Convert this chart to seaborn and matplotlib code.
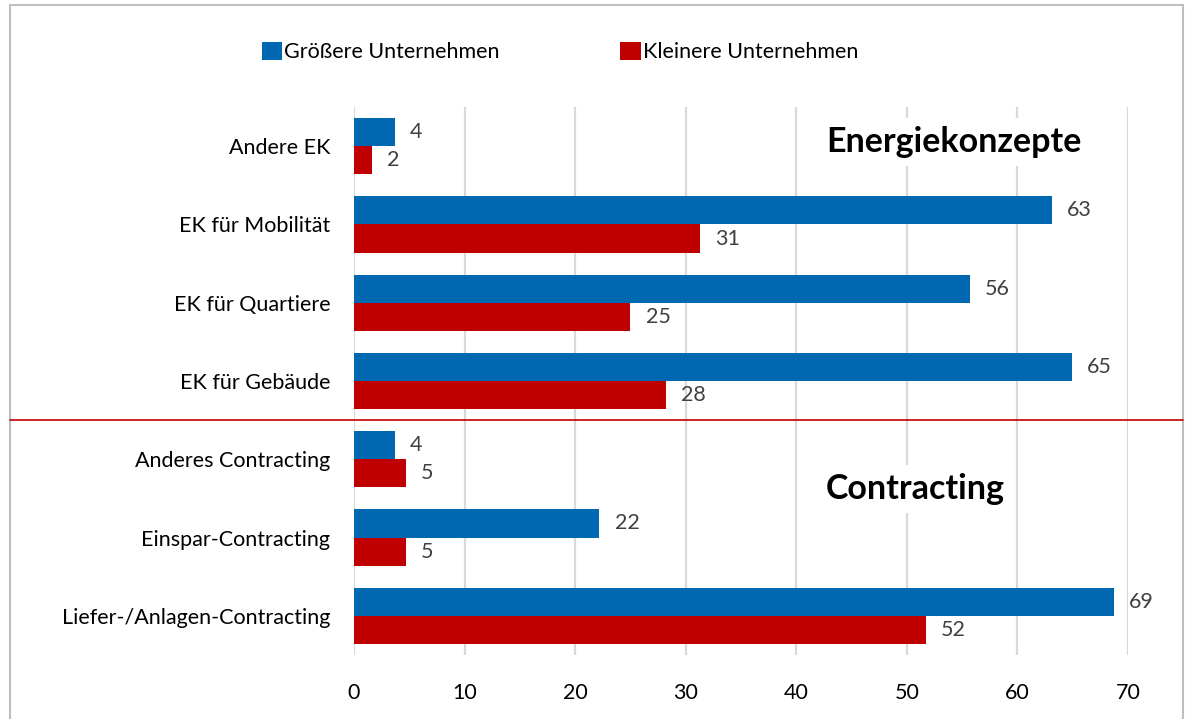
import numpy as np
import pandas as pd
import matplotlib
matplotlib.use("Agg")
import matplotlib.pyplot as plt
import matplotlib.transforms as mtransforms
from matplotlib.lines import Line2D
from matplotlib.patches import Rectangle
import seaborn as sns

# Data
categories = ["Andere EK", "EK für Mobilität", "EK für Quartiere", "EK für Gebäude",
              "Anderes Contracting", "Einspar-Contracting", "Liefer-/Anlagen-Contracting"]
groessere = [3.7, 63.1, 55.7, 64.9, 3.7, 22.2, 68.7]
kleinere = [1.6, 31.3, 25.0, 28.2, 4.7, 4.7, 51.7]
series_names = ["Größere Unternehmen", "Kleinere Unternehmen"]
x_ticks = [0, 10, 20, 30, 40, 50, 60, 70]

df = pd.DataFrame({
    "Kategorie": categories * 2,
    "Wert": groessere + kleinere,
    "Gruppe": [series_names[0]] * len(categories) + [series_names[1]] * len(categories),
})

sns.set_theme(style="white")
plt.rcParams["font.family"] = ["Lato", "DejaVu Sans"]
plt.rcParams["text.color"] = "black"

fig = plt.figure(figsize=(11.85, 7.19), dpi=100)
ax = fig.add_axes([354 / 1185, 1 - 655 / 719, (1128 - 354) / 1185, (655 - 107) / 719])

palette = {series_names[0]: "#0068B0", series_names[1]: "#C00000"}
sns.barplot(data=df, x="Wert", y="Kategorie", hue="Gruppe", order=categories,
            hue_order=series_names, palette=palette, orient="h", width=0.72,
            saturation=1, linewidth=0, ax=ax, zorder=3)

# value labels
for cont in ax.containers:
    ax.bar_label(cont, fmt="%.0f", padding=11, fontsize=15.5, color="#404040")

ax.set_xlim(0, 70)
ax.set_xticks(x_ticks)
ax.set_xlabel("")
ax.set_ylabel("")
ax.tick_params(axis="x", labelsize=15.5, pad=20, length=0, colors="black")
ax.tick_params(axis="y", labelsize=15.5, pad=17, length=0, colors="black")
ax.grid(axis="x", color="#D9D9D9", linewidth=1.6, zorder=0)
ax.set_axisbelow(True)
for s in ax.spines.values():
    s.set_visible(False)

# legend at top
handles, labels = ax.get_legend_handles_labels()
ax.get_legend().remove()
fig.legend(handles, labels, loc="center", bbox_to_anchor=(560 / 1185, 1 - 52 / 719),
           ncol=2, frameon=False, fontsize=15.5, handlelength=0.95, handleheight=0.95,
           handletextpad=0.1, columnspacing=5.6, labelcolor="black")

# section headers
ax.text(42.7, -0.05, "Energiekonzepte", fontsize=24.5, fontweight="bold", ha="left",
        va="center", color="black", zorder=4,
        bbox=dict(facecolor="white", edgecolor="none", pad=6))
ax.text(42.7, 4.38, "Contracting", fontsize=24.5, fontweight="bold", ha="left",
        va="center", color="black", zorder=4,
        bbox=dict(facecolor="white", edgecolor="none", pad=6))

# red separator between the two sections, across the whole chart area
trans = mtransforms.blended_transform_factory(fig.transFigure, ax.transData)
fig.add_artist(Line2D([10 / 1185, 1183 / 1185], [3.5, 3.5], transform=trans,
                      color="#C00000", linewidth=1.2))

# outer chart border
fig.add_artist(Rectangle((10 / 1185, -0.01), 1173 / 1185, 1.01 - 5 / 719,
                         transform=fig.transFigure, fill=False,
                         edgecolor="#BFBFBF", linewidth=1.5))

fig.savefig("out.png", dpi=100, facecolor="white")
